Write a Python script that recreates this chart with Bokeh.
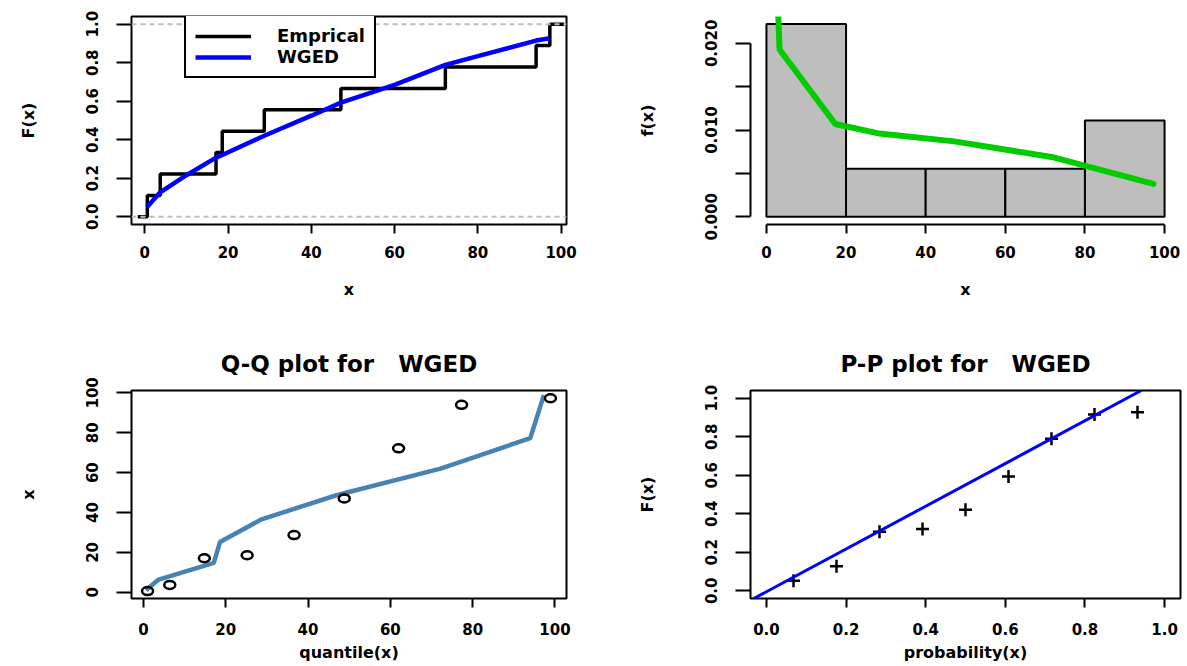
import numpy as np
from bokeh.plotting import figure
from bokeh.layouts import gridplot
from bokeh.models import Span, Legend, LegendItem, Range1d, FixedTicker, Slope
from bokeh.embed import file_html
from bokeh.resources import INLINE

# ---------------- data ----------------
sample_x = [0.6, 3.7, 17.1, 18.6, 28.7, 47.1, 72.2, 94.0, 97.3]
ecdf_levels = [0.0, 1/9, 2/9, 3/9, 4/9, 5/9, 6/9, 7/9, 8/9, 1.0]

fit_cdf_x = [0.5, 3.7, 10.0, 17.1, 18.6, 28.7, 40.0, 47.1, 60.0, 72.2, 80.0, 94.0, 97.3]
fit_cdf_y = [0.050, 0.127, 0.216, 0.307, 0.321, 0.421, 0.525, 0.593, 0.685, 0.789, 0.834, 0.915, 0.927]

hist_breaks = [0, 20, 40, 60, 80, 100]
hist_counts = [4, 1, 1, 1, 2]

dens_x = [2.9, 3.3, 17.3, 28.4, 47.2, 71.6, 97.2]
dens_y = [0.0240, 0.0193, 0.0107, 0.0096, 0.0087, 0.0069, 0.0038]

theo_quantiles = [1.0, 6.4, 14.8, 25.2, 36.6, 48.8, 62.0, 77.3, 98.9]

pp_prob = [0.068, 0.176, 0.284, 0.392, 0.500, 0.608, 0.716, 0.824, 0.932]
pp_fit = [0.052, 0.127, 0.307, 0.321, 0.421, 0.593, 0.789, 0.915, 0.927]
pp_slope, pp_intercept = 1.11, -0.005

FONT = "DejaVu Sans"
TICK_FS = "15px"
LAB_FS = "16px"
NB = "\u00a0"


def style_axes(p, boxed=True):
    p.grid.visible = False
    p.background_fill_color = "white"
    p.border_fill_color = "white"
    if boxed:
        p.outline_line_color = "black"
        p.outline_line_width = 2
        p.outline_line_alpha = 1.0
    else:
        p.outline_line_color = None
    for ax in p.axis:
        ax.major_tick_in = 0
        ax.major_tick_line_width = 2
        ax.major_tick_line_color = "black"
        ax.minor_tick_line_color = None
        ax.major_label_text_font = FONT
        ax.major_label_text_font_style = "bold"
        ax.major_label_text_font_size = TICK_FS
        ax.major_label_text_color = "black"
        ax.axis_label_text_font = FONT
        ax.axis_label_text_font_style = "bold"
        ax.axis_label_text_font_size = LAB_FS
        ax.axis_label_text_color = "black"
        if boxed:
            ax.axis_line_color = None
        else:
            ax.axis_line_color = "black"
            ax.axis_line_width = 2
    p.xaxis.major_tick_out = 9
    p.xaxis.major_label_standoff = 12
    p.yaxis.major_tick_out = 15
    p.yaxis.major_label_standoff = 18
    p.yaxis.major_label_orientation = "vertical"
    p.xaxis.axis_label_standoff = 19
    p.yaxis.axis_label_standoff = 46


def title_style(p, text):
    p.title.text = text
    p.title.align = "center"
    p.title.vertical_align = "top"
    p.title.text_font = FONT
    p.title.text_font_style = "bold"
    p.title.text_font_size = "23px"
    p.title.text_color = "black"
    p.title.standoff = 24


W_L, W_R = 599, 585
H_T, H_B = 328, 336
BL_L, BR_L = 131, 33
BL_R, BR_R = 151, 4

# ---------------- panel 1: CDF ----------------
p1 = figure(width=W_L, height=H_T, output_backend="svg", toolbar_location=None,
            x_range=Range1d(-3.2, 101.3), y_range=Range1d(-0.04, 1.04),
            min_border_left=BL_L, min_border_right=BR_L, min_border_top=16, min_border_bottom=104,
            x_axis_label="x", y_axis_label="F(x)")
p1.add_layout(Span(location=0, dimension="width", line_color="#BEBEBE", line_width=2, line_dash="5 4"))
p1.add_layout(Span(location=1, dimension="width", line_color="#BEBEBE", line_width=2, line_dash="5 4"))
step_x = [-1.7] + sample_x + [100.8]
r_emp = p1.step(step_x, ecdf_levels + [1.0], mode="after", line_color="black", line_width=3.5)
r_fit = p1.line(fit_cdf_x, fit_cdf_y, line_color="#0000FF", line_width=4.5)
p1.xaxis.ticker = FixedTicker(ticks=[0, 20, 40, 60, 80, 100])
p1.yaxis.ticker = FixedTicker(ticks=[0, 0.2, 0.4, 0.6, 0.8, 1.0])
p1.yaxis.major_label_overrides = {0: "0.0", 1: "1.0"}
style_axes(p1)
leg = Legend(items=[LegendItem(label="Emprical", renderers=[r_emp]),
                    LegendItem(label="WGED", renderers=[r_fit])],
             location=(53, 146), margin=0, padding=9, spacing=0,
             glyph_width=56, glyph_height=18, label_standoff=26, label_height=18,
             border_line_color="black", border_line_width=2, border_line_alpha=1.0,
             label_text_font=FONT, label_text_font_style="bold", label_text_font_size="18px",
             label_text_color="black", background_fill_alpha=1.0)
p1.add_layout(leg)

# ---------------- panel 2: histogram + density ----------------
dens = [c / (sum(hist_counts) * (hist_breaks[1] - hist_breaks[0])) for c in hist_counts]
p2 = figure(width=W_R, height=H_T, output_backend="svg", toolbar_location=None,
            x_range=Range1d(-4, 104), y_range=Range1d(-0.000888, 0.0231),
            min_border_left=BL_R, min_border_right=BR_R, min_border_top=16, min_border_bottom=104,
            x_axis_label="x", y_axis_label="f(x)")
p2.quad(left=hist_breaks[:-1], right=hist_breaks[1:], bottom=0, top=dens,
        fill_color="#BEBEBE", line_color="black", line_width=2)
p2.line(dens_x, dens_y, line_color="#00CC00", line_width=6, line_cap="round", line_join="round")
p2.xaxis.ticker = FixedTicker(ticks=[0, 20, 40, 60, 80, 100])
p2.yaxis.ticker = FixedTicker(ticks=[0, 0.005, 0.01, 0.015, 0.02])
p2.yaxis.major_label_overrides = {0: "0.000", 0.005: "", 0.01: "0.010", 0.015: "", 0.02: "0.020"}
style_axes(p2, boxed=False)
p2.xaxis.bounds = (0, 100)
p2.yaxis.bounds = (0, 0.02)

# ---------------- panel 3: Q-Q ----------------
p3 = figure(width=W_L, height=H_B, output_backend="svg", toolbar_location=None,
            x_range=Range1d(-2.9, 102.8), y_range=Range1d(-3.1, 101.2),
            min_border_left=BL_L, min_border_right=BR_L, min_border_top=62, min_border_bottom=66,
            x_axis_label="quantile(x)", y_axis_label="x")
title_style(p3, "Q-Q plot for" + NB * 3 + "WGED")
p3.line(sample_x, theo_quantiles, line_color="#4682B4", line_width=4.5)
p3.ellipse(x=theo_quantiles, y=sample_x, width=11, height=8, width_units="screen",
           height_units="screen", fill_color=None, line_color="black", line_width=2.5)
p3.xaxis.ticker = FixedTicker(ticks=[0, 20, 40, 60, 80, 100])
p3.yaxis.ticker = FixedTicker(ticks=[0, 20, 40, 60, 80, 100])
style_axes(p3)
p3.xaxis.major_label_standoff = 15
p3.xaxis.axis_label_standoff = 5

# ---------------- panel 4: P-P ----------------
p4 = figure(width=W_R, height=H_B, output_backend="svg", toolbar_location=None,
            x_range=Range1d(-0.04, 1.04), y_range=Range1d(-0.04, 1.04),
            min_border_left=BL_R, min_border_right=BR_R, min_border_top=62, min_border_bottom=66,
            x_axis_label="probability(x)", y_axis_label="F(x)")
title_style(p4, "P-P plot for" + NB * 3 + "WGED")
p4.add_layout(Slope(gradient=pp_slope, y_intercept=pp_intercept, line_color="#0000FF", line_width=3))
p4.scatter(pp_prob, pp_fit, marker="cross", size=13, line_width=2.5, color="black")
p4.xaxis.ticker = FixedTicker(ticks=[0, 0.2, 0.4, 0.6, 0.8, 1.0])
p4.yaxis.ticker = FixedTicker(ticks=[0, 0.2, 0.4, 0.6, 0.8, 1.0])
p4.xaxis.major_label_overrides = {0: "0.0", 1: "1.0"}
p4.yaxis.major_label_overrides = {0: "0.0", 1: "1.0"}
style_axes(p4)
p4.xaxis.major_label_standoff = 15
p4.xaxis.axis_label_standoff = 5

grid = gridplot([[p1, p2], [p3, p4]], toolbar_location=None)

open("out.html", "w").write(file_html(grid, INLINE))
